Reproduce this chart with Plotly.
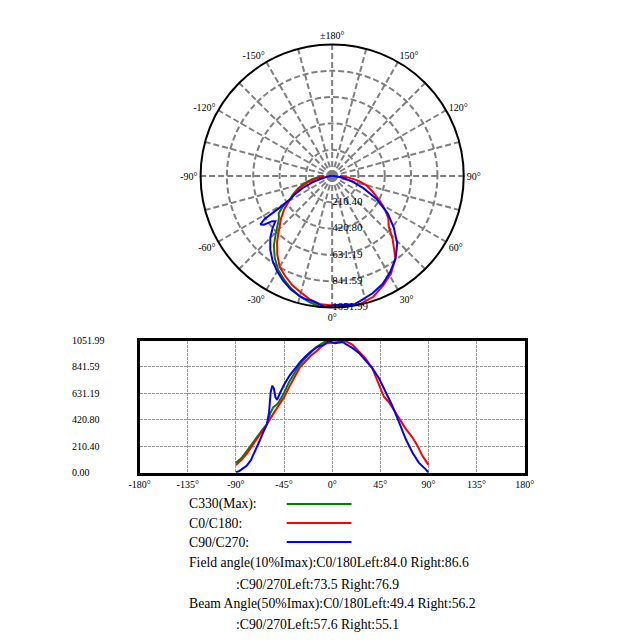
import plotly.graph_objects as go

W, H = 643, 644
FONT = "Liberation Serif"

# --- data ---
i_max = 1051.99
ring_vals = [210.40, 420.80, 631.19, 841.59, 1051.99]

# C330 (Max) - only the left half is visible in the reference
c330_ang = [-90, -85, -80, -75, -70, -65, -61, -58, -55, -52, -50, -45, -40,
            -35, -30, -25, -20, -15, -10, -5, 0]
c330_val = [80, 115, 170, 230, 290, 345, 385, 470, 522, 540, 560, 635, 725,
            800, 865, 912, 958, 998, 1025, 1052, 1040]

# C0/C180
c0_ang = [-90, -85, -80, -75, -70, -65, -61, -55, -50, -45, -40, -35, -30, -25,
          -20, -15, -10, -5, 0, 5, 10, 12.5, 18.8, 25, 31, 37.5, 43.8, 48.4,
          53, 57.8, 62.5, 68.8, 75, 79.7, 84.4, 90]
c0_val = [62, 100, 150, 212, 270, 330, 385, 470, 535, 600, 685, 765, 840, 885,
          930, 965, 1005, 1030, 1036, 1040, 1052, 1047, 1020, 966, 912, 832,
          698, 604, 563, 497, 429, 349, 282, 215, 134, 62]

# C90/C270
c90_ang = [-90, -87, -84, -80, -76, -72, -68, -64, -61, -59, -57.5, -56, -54.5,
           -53, -51.5, -49, -45, -40, -35, -30, -25, -20, -15, -12, -9, -6, -3,
           0, 3, 6, 10, 12.5, 18.8, 25, 31, 37.5, 43.8, 50, 56, 62.5, 68.8, 75,
           81, 87.5, 90]
c90_val = [2, 12, 30, 55, 100, 170, 250, 330, 385, 480, 640, 692, 670, 600,
           580, 630, 700, 770, 830, 880, 925, 965, 995, 1008, 1012, 1030, 1048,
           1035, 1030, 1035, 1040, 1025, 993, 953, 899, 832, 752, 644, 537,
           403, 268, 161, 80, 27, 0]

x_ticks = [-180, -135, -90, -45, 0, 45, 90, 135, 180]
y_ticks = [0.00, 210.40, 420.80, 631.19, 841.59, 1051.99]

field_c0 = (84.0, 86.6)
field_c90 = (73.5, 76.9)
beam_c0 = (49.4, 56.2)
beam_c90 = (57.6, 55.1)

series = [
    ("C330(Max):", c330_ang, c330_val, "#008000"),
    ("C0/C180:", c0_ang, c0_val, "#ff0000"),
    ("C90/C270:", c90_ang, c90_val, "#0000ff"),
]


def px(x):
    return x / W


def py(y):
    return 1 - y / H


fig = go.Figure()

# --- polar plot ---
for name, ang, val, col in series:
    fig.add_trace(go.Scatterpolar(r=val, theta=ang, mode="lines",
                                  line=dict(color=col, width=2),
                                  showlegend=False, hoverinfo="skip"))

fig.add_trace(go.Scatterpolar(
    r=ring_vals, theta=[0] * len(ring_vals), mode="text",
    text=[f"{v:.2f}" for v in ring_vals], textposition="middle right",
    textfont=dict(family=FONT, size=11, color="black"),
    showlegend=False, hoverinfo="skip"))

ang_vals = list(range(0, 360, 15))
ang_text = []
for a in ang_vals:
    if a % 30:
        ang_text.append("")
    elif a == 180:
        ang_text.append("±180°")
    elif a < 180:
        ang_text.append(f"{a}°")
    else:
        ang_text.append(f"{a - 360}°")

# --- cartesian plot ---
for name, ang, val, col in series:
    fig.add_trace(go.Scatter(x=ang, y=val, mode="lines",
                             line=dict(color=col, width=2),
                             xaxis="x", yaxis="y",
                             showlegend=False, hoverinfo="skip"))

annotations = []
for v in y_ticks:
    annotations.append(dict(x=px(61), xref="paper", y=v, yref="y",
                            text=f"{v:.2f}", showarrow=False,
                            xanchor="left", yanchor="middle",
                            font=dict(family=FONT, size=10, color="black")))

# --- legend and angle text ---
shapes = []
for k, (name, ang, val, col) in enumerate(series):
    yy = 504 + k * 19
    annotations.append(dict(x=px(182), y=py(yy), xref="paper", yref="paper",
                            text=name, showarrow=False, xanchor="left",
                            yanchor="middle",
                            font=dict(family=FONT, size=13.7, color="black")))
    shapes.append(dict(type="line", xref="paper", yref="paper",
                       x0=px(285), x1=px(352), y0=py(yy), y1=py(yy),
                       line=dict(color=col, width=2)))

lines = [
    (182, 563, f"Field angle(10%Imax):C0/180Left:{field_c0[0]:.1f} Right:{field_c0[1]:.1f}"),
    (231, 584, f":C90/270Left:{field_c90[0]:.1f} Right:{field_c90[1]:.1f}"),
    (182, 604, f"Beam Angle(50%Imax):C0/180Left:{beam_c0[0]:.1f} Right:{beam_c0[1]:.1f}"),
    (231, 624, f":C90/270Left:{beam_c90[0]:.1f} Right:{beam_c90[1]:.1f}"),
]
for xx, yy, t in lines:
    annotations.append(dict(x=px(xx), y=py(yy), xref="paper", yref="paper",
                            text=t, showarrow=False, xanchor="left",
                            yanchor="middle",
                            font=dict(family=FONT, size=13.7, color="black")))

fig.update_layout(
    width=W, height=H, autosize=False,
    margin=dict(l=0, r=0, t=0, b=0),
    paper_bgcolor="white", plot_bgcolor="white",
    font=dict(family=FONT, size=10, color="black"),
    polar=dict(
        domain=dict(x=[px(196), px(468)], y=[py(312), py(40)]),
        bgcolor="white",
        angularaxis=dict(rotation=-90, direction="counterclockwise",
                         tickvals=ang_vals, ticktext=ang_text, ticks="",
                         showline=True, linecolor="black", linewidth=2,
                         gridcolor="#7f7f7f", gridwidth=2, griddash="6px,3px",
                         tickfont=dict(family=FONT, size=10, color="black")),
        radialaxis=dict(range=[0, i_max], tickvals=ring_vals[:-1],
                        showticklabels=False, ticks="", showline=False,
                        gridcolor="#7f7f7f", gridwidth=2, griddash="6px,3px"),
    ),
    xaxis=dict(domain=[px(133), px(531)], range=[-180, 180],
               tickvals=x_ticks, ticktext=[f"{v}°" for v in x_ticks],
               showgrid=True, gridcolor="#999999", gridwidth=1, griddash="3px,1px",
               showline=True, mirror=True, linecolor="black", linewidth=3,
               zeroline=False, ticks="",
               tickfont=dict(family=FONT, size=10, color="black")),
    yaxis=dict(domain=[py(472.7), py(340.5)], range=[0, i_max],
               tickvals=y_ticks, showticklabels=False,
               showgrid=True, gridcolor="#999999", gridwidth=1, griddash="3px,1px",
               showline=True, mirror=True, linecolor="black", linewidth=3,
               zeroline=False, ticks=""),
    annotations=annotations,
    shapes=shapes,
)

fig.write_html("out.html", config={"displayModeBar": False},
               post_script="document.body.style.margin='0px';")
